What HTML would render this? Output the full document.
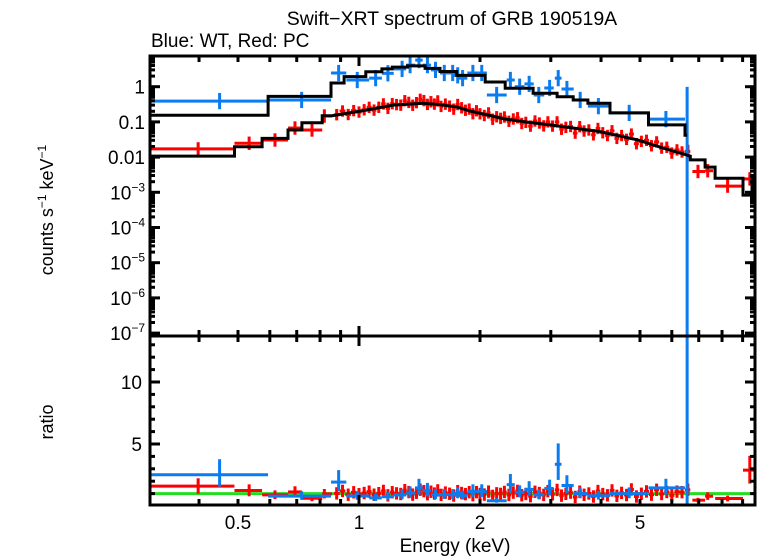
<!DOCTYPE html>
<html><head><meta charset="utf-8">
<style>
html,body{margin:0;padding:0;background:#fff;}
svg{display:block;font-family:"Liberation Sans",sans-serif;}
</style></head>
<body>
<svg id="chart" width="758" height="556" viewBox="0 0 758 556" xmlns="http://www.w3.org/2000/svg">
<text x="452" y="25" font-size="19.5" text-anchor="middle">Swift−XRT spectrum of GRB 190519A</text>
<text x="151" y="47" font-size="19" >Blue: WT, Red: PC</text>
<text transform="translate(53,210) rotate(-90)" font-size="18" text-anchor="middle">counts s<tspan font-size="12" dy="-7">−1</tspan><tspan dy="7"> keV</tspan><tspan font-size="12" dy="-7">−1</tspan></text>
<text transform="translate(53,422) rotate(-90)" font-size="18" text-anchor="middle">ratio</text>
<text x="455" y="552" font-size="19" text-anchor="middle">Energy (keV)</text>
<g id="marks"></g>
<g id="axes"></g>
</svg>
<script>
// ---- data ----
const blueE   = [0.45,0.72,0.89,0.99,1.10,1.18,1.28,1.34,1.41,1.48,1.55,1.63,1.71,1.76,1.81,1.92,2.02,2.2,2.38,2.51,2.65,2.8,2.98,3.13,3.29,3.55,3.94,4.7,5.8,6.55];
const blueVal = [0.39,0.42,2.45,1.55,1.75,2.4,3.2,4.1,5.7,4.1,3.0,2.45,2.45,2.1,1.75,2.45,2.45,0.58,1.55,1.0,1.2,0.58,0.92,1.75,0.86,0.42,0.28,0.18,0.12,0.58];
const blueLo  = [0.30,0.594,0.852,0.93,1.06,1.14,1.22,1.31,1.38,1.44,1.51,1.59,1.67,1.72,1.77,1.86,1.98,2.08,2.33,2.44,2.58,2.72,2.89,3.07,3.19,3.42,3.71,4.21,5.25,6.50];
const blueHi  = [0.594,0.852,0.93,1.06,1.14,1.22,1.31,1.38,1.44,1.51,1.59,1.67,1.76,1.80,1.86,1.98,2.08,2.33,2.44,2.58,2.72,2.89,3.05,3.19,3.42,3.71,4.21,5.25,6.47,6.58];
const blueModelEdges = [0.3,0.594,0.852,0.918,1.04,1.14,1.21,1.32,1.46,1.59,1.75,2.06,2.31,2.71,3.11,3.41,3.71,4.21,5.25,6.47,6.55];
const blueModelVals  = [0.155,0.53,1.27,1.93,2.67,3.2,3.6,3.9,3.3,2.7,2.1,1.36,0.9,0.65,0.52,0.42,0.34,0.18,0.082,0.042];

const redWideE   = [0.398,0.533,0.618,0.693,0.764,0.82,6.58,6.97,7.37,8.26,9.38];
const redWideVal = [0.0171,0.0247,0.0306,0.067,0.059,0.147,0.0145,0.0039,0.0041,0.0015,0.0024];
const redWideLo  = [0.30,0.49,0.574,0.666,0.721,0.81,6.47,6.75,7.26,7.69,9.02];
const redWideHi  = [0.49,0.574,0.666,0.721,0.81,0.857,6.67,7.26,7.6,9.02,9.7];
const redE   = [0.88,0.91,0.94,0.97,1.00,1.03,1.06,1.09,1.12,1.15,1.18,1.21,1.24,1.27,1.30,1.33,1.36,1.39,1.42,1.45,1.48,1.51,1.54,1.57,1.60,1.64,1.68,1.72,1.76,1.80,1.84,1.88,1.92,1.96,2.00,2.05,2.10,2.15,2.20,2.25,2.30,2.36,2.42,2.48,2.54,2.60,2.67,2.74,2.81,2.88,2.95,3.03,3.11,3.19,3.27,3.36,3.45,3.54,3.63,3.73,3.83,3.93,4.04,4.15,4.26,4.38,4.50,4.63,4.76,4.90,5.04,5.19,5.34,5.50,5.66,5.83,6.00,6.18,6.36];
const redVal = [0.160,0.204,0.162,0.209,0.190,0.221,0.259,0.216,0.26,0.324,0.242,0.330,0.31,0.299,0.400,0.358,0.297,0.352,0.438,0.402,0.314,0.374,0.32,0.394,0.275,0.319,0.28,0.230,0.312,0.252,0.214,0.231,0.171,0.207,0.17,0.152,0.180,0.119,0.140,0.126,0.138,0.104,0.121,0.131,0.090,0.097,0.076,0.106,0.093,0.077,0.100,0.076,0.100,0.062,0.070,0.074,0.048,0.073,0.055,0.059,0.043,0.065,0.049,0.041,0.056,0.034,0.041,0.032,0.045,0.024,0.028,0.030,0.021,0.027,0.018,0.019,0.013,0.016,0.014];
const redModelLowEdges = [0.3,0.49,0.574,0.666,0.721,0.81,0.857];
const redModelLowVals  = [0.0107,0.0198,0.034,0.059,0.095,0.15];
const redModelCurveE   = [0.857,1.047,1.215,1.443,1.59,1.752,1.888,2.117,2.307,2.665,2.987,3.977,4.92,5.71,6.67];
const redModelCurveV   = [0.15,0.218,0.30,0.337,0.31,0.265,0.204,0.152,0.121,0.096,0.082,0.053,0.031,0.018,0.0107];
const redModelHighEdges = [6.67,7.26,7.69,9.02,9.5,9.7];
const redModelHighVals  = [0.0083,0.0052,0.0025,0.00083,0.0025];

const yTopTicks = [1,0.1,0.01,1e-3,1e-4,1e-5,1e-6,1e-7];
const yTopLabels = ["1","0.1","0.01","10|−3","10|−4","10|−5","10|−6","10|−7"];
const xTicksMajor = [0.5,1,2,5];
const xTickLabels = ["0.5","1","2","5"];
const yBotTicks = [5,10];

// ---- scales ----
const L=150, R=755, T1=56, B1=336, T2=336, B2=505;
const xs = e => 359 + 402*Math.log10(e);
const yTop = v => 86.7 - 35.2*Math.log10(v);
const yBot = r => 444 - (r-5)*12.4;
const NS="http://www.w3.org/2000/svg";
const marks=document.getElementById('marks'), axes=document.getElementById('axes');
function mk(tag, attrs, parent){const el=document.createElementNS(NS,tag);for(const k in attrs)el.setAttribute(k,attrs[k]);parent.appendChild(el);return el;}

function stepModel(edges, vals, e){for(let i=0;i<vals.length;i++){if(e>=edges[i]&&e<edges[i+1])return vals[i];}return vals[vals.length-1];}
function redModel(e){
  if(e<redModelCurveE[0]) return stepModel(redModelLowEdges,redModelLowVals,e);
  if(e>=redModelHighEdges[0]) return stepModel(redModelHighEdges,redModelHighVals,e);
  for(let i=0;i<redModelCurveE.length-1;i++){
    if(e>=redModelCurveE[i]&&e<=redModelCurveE[i+1]){
      const t=(Math.log(e)-Math.log(redModelCurveE[i]))/(Math.log(redModelCurveE[i+1])-Math.log(redModelCurveE[i]));
      return Math.exp(Math.log(redModelCurveV[i])*(1-t)+Math.log(redModelCurveV[i+1])*t);
    }
  }
  return 0.01;
}
function blueModel(e){return stepModel(blueModelEdges,blueModelVals,e);}

const defs=mk('defs',{},marks);
const c1=mk('clipPath',{id:'clipTop'},defs); mk('rect',{x:L,y:T1,width:R-L,height:B1-T1},c1);
const c2=mk('clipPath',{id:'clipBot'},defs); mk('rect',{x:L,y:T2,width:R-L,height:B2-T2},c2);
const gTop=mk('g',{'clip-path':'url(#clipTop)'},marks);


const gBot=mk('g',{'clip-path':'url(#clipBot)'},marks);



function cross(g, x1,x2,xc,y,ylo,yhi,color,name){
  const grp=mk('g',{stroke:color,'stroke-width':3,fill:'none'},g);
  
  
  mk('line',{x1:x1,x2:x2,y1:y,y2:y},grp);
  mk('line',{x1:xc,x2:xc,y1:ylo,y2:yhi},grp);
}
function stepPath(edges, vals, yf){
  let d='';
  for(let i=0;i<vals.length;i++){
    const x1=xs(edges[i]),x2=xs(edges[i+1]),y=yf(vals[i]);
    d+=(i===0?'M':'L')+x1.toFixed(1)+','+y.toFixed(1)+'L'+x2.toFixed(1)+','+y.toFixed(1);
  }
  return d;
}

const one=mk('line',{x1:L,x2:R,y1:yBot(1),y2:yBot(1),stroke:'#22dd22','stroke-width':3},gBot);



for(let i=0;i<redWideE.length;i++){
  const v=redWideVal[i], m=redModel(redWideE[i]), r=v/m;
  cross(gTop,xs(redWideLo[i]),xs(redWideHi[i]),xs(redWideE[i]),yTop(v),yTop(v*1.55),yTop(v/1.55),'#ff0000','red-pc-point');
  cross(gBot,xs(redWideLo[i]),xs(redWideHi[i]),xs(redWideE[i]),yBot(r),yBot(r*1.4),yBot(r/1.6),'#ff0000','red-pc-ratio-point');
}
for(let i=0;i<redE.length;i++){
  const e=redE[i], lo=i>0?Math.sqrt(e*redE[i-1]):e/1.015, hi=i<redE.length-1?Math.sqrt(e*redE[i+1]):e*1.015;
  const v=redVal[i], r=v/redModel(e);
  cross(gTop,xs(lo),xs(hi),xs(e),yTop(v),yTop(v*1.45),yTop(v/1.45),'#ff0000','red-pc-point');
  cross(gBot,xs(lo),xs(hi),xs(e),yBot(r),yBot(r+0.5),yBot(r-0.5),'#ff0000','red-pc-ratio-point');
}
for(let i=0;i<blueE.length;i++){
  const v=blueVal[i], r=v/blueModel(blueE[i]);
  const last = i===blueE.length-1;
  cross(gTop,xs(blueLo[i]),xs(blueHi[i]),xs(blueE[i]),yTop(v),yTop(v*1.7),last?B1+5:yTop(v/1.7),'#0a7cf0','blue-wt-point');
  cross(gBot,xs(blueLo[i]),xs(blueHi[i]),xs(blueE[i]),last?yBot(1.2):yBot(r),last?T2-5:yBot(r*1.5),last?B2+5:yBot(r/1.6),'#0a7cf0','blue-wt-ratio-point');
}
const bm=mk('path',{d:stepPath(blueModelEdges,blueModelVals,yTop),stroke:'#000','stroke-width':3,fill:'none'},gTop);


let rd=stepPath(redModelLowEdges,redModelLowVals,yTop);
for(let i=0;i<redModelCurveE.length;i++) rd+='L'+xs(redModelCurveE[i]).toFixed(1)+','+yTop(redModelCurveV[i]).toFixed(1);
rd+=stepPath(redModelHighEdges,redModelHighVals,yTop).replace(/^M/,'L');
const rm=mk('path',{d:rd,stroke:'#000','stroke-width':3,fill:'none'},gTop);



// ---- axes ----
const fr=mk('g',{stroke:'#000','stroke-width':3,fill:'none'},axes);


mk('rect',{x:L,y:T1,width:R-L,height:B2-T1},fr);
mk('line',{x1:L,x2:R,y1:B1,y2:B1},fr);

const minorX=[0.4,0.5,0.6,0.7,0.8,0.9,2,3,4,5,6,7,8,9];
const tk=mk('g',{stroke:'#000','stroke-width':3},axes);


for(const e of minorX.concat([1])){
  const x=xs(e), len=e===1?10:6;
  for(const y0 of [T1,T2]) mk('line',{x1:x,x2:x,y1:y0,y2:y0+len},tk);
  for(const y0 of [B1,B2]) mk('line',{x1:x,x2:x,y1:y0,y2:y0-len},tk);
}
for(let d=-7;d<=0;d++){
  for(let k=1;k<=9;k++){
    const v=k*Math.pow(10,d), y=yTop(v); if(y<T1||y>B1) continue;
    const len=k===1?10:5;
    mk('line',{x1:L,x2:L+len,y1:y,y2:y},tk); mk('line',{x1:R,x2:R-len,y1:y,y2:y},tk);
  }
}
for(let r=1;r<=13;r++){
  const y=yBot(r), len=(r%5===0)?10:5;
  mk('line',{x1:L,x2:L+len,y1:y,y2:y},tk); mk('line',{x1:R,x2:R-len,y1:y,y2:y},tk);
}
for(let i=0;i<yTopTicks.length;i++){
  const t=mk('text',{x:L-5,y:yTop(yTopTicks[i])+7,'font-size':19,'text-anchor':'end'},axes);
  
  
  const parts=yTopLabels[i].split('|');
  if(parts.length===1) t.textContent=parts[0];
  else { t.textContent=parts[0]; const s=mk('tspan',{'font-size':12,dy:-8},t); s.textContent=parts[1]; }
}
for(const r of yBotTicks){
  const t=mk('text',{x:L-8,y:yBot(r)+7,'font-size':19,'text-anchor':'end'},axes);
  
  
  t.textContent=String(r);
}
for(let i=0;i<xTicksMajor.length;i++){
  const t=mk('text',{x:xs(xTicksMajor[i]),y:529,'font-size':19,'text-anchor':'middle'},axes);
  
  
  t.textContent=xTickLabels[i];
}
</script>
</body></html>
